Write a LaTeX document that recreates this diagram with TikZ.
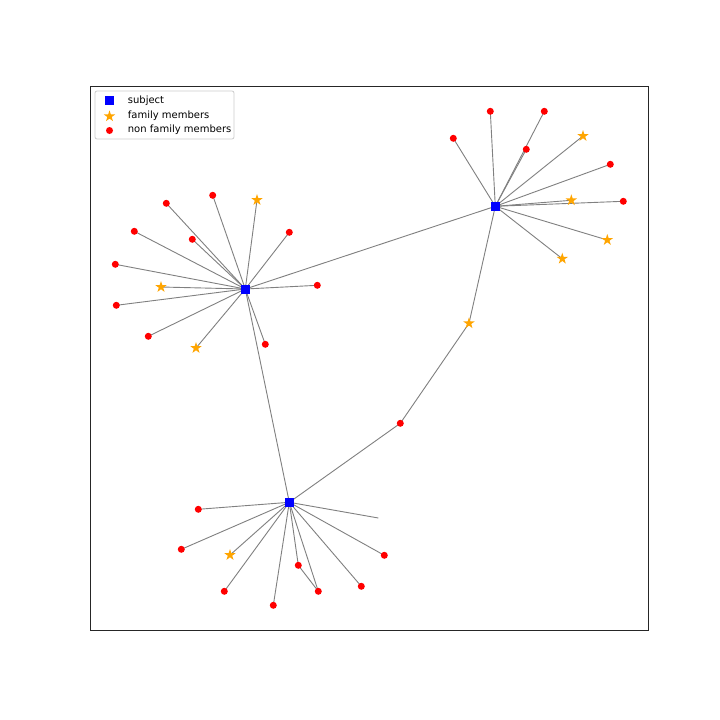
\documentclass[tikz,border=0pt]{standalone}
\usepackage{fontspec}
\setmainfont{DejaVu Sans}
\usetikzlibrary{shapes.geometric}
\definecolor{mplorange}{RGB}{255,165,0}
\definecolor{mplgray}{RGB}{128,128,128}
\pgfdeclarelayer{background}
\pgfsetlayers{background,main}
\tikzset{
  subj/.style={rectangle, fill=blue, inner sep=0pt, minimum size=9pt},
  fam/.style={star, star points=5, star point ratio=2.618, fill=mplorange, inner sep=0pt, minimum size=12pt},
  non/.style={circle, fill=red, inner sep=0pt, minimum size=7pt},
  edge/.style={draw=mplgray, line width=0.9pt},
  legtext/.style={anchor=west, inner sep=0pt, font=\fontsize{10}{12}\selectfont},
}
\begin{document}
\begin{tikzpicture}[x=1pt,y=-1pt]
\useasboundingbox (0,0) rectangle (720,720);
\begin{pgfonlayer}{background}
\fill[white] (0,0) rectangle (720,720);
\end{pgfonlayer}

% subjects
\node[subj] (A) at (245.3,289) {};
\node[subj] (B) at (495.3,206.3) {};
\node[subj] (C) at (289.3,502.3) {};

% middle chain
\node[fam] (m1) at (469,323.3) {};
\node[non] (m2) at (400.3,423.3) {};

% A cluster
\node[non] (a1) at (212.7,195.3) {};
\node[fam] (a2) at (257,200) {};
\node[non] (a3) at (166.3,203.3) {};
\node[non] (a4) at (134.3,231.3) {};
\node[non] (a5) at (192.3,239.3) {};
\node[non] (a6) at (289.3,232.3) {};
\node[non] (a7) at (115.3,264.3) {};
\node[fam] (a8) at (161,287) {};
\node[non] (a9) at (317.3,285.3) {};
\node[non] (a10) at (116.3,305.3) {};
\node[non] (a11) at (148.3,336.3) {};
\node[fam] (a12) at (196,348) {};
\node[non] (a13) at (265.3,344.3) {};

% B cluster
\node[non] (b1) at (490.3,111.3) {};
\node[non] (b2) at (544.3,111.3) {};
\node[non] (b3) at (453.3,138.3) {};
\node[fam] (b4) at (583,136) {};
\node[non] (b5) at (526.3,149.3) {};
\node[non] (b6) at (610.3,164.3) {};
\node[fam] (b7) at (571.3,200.3) {};
\node[non] (b8) at (623.3,201.3) {};
\node[fam] (b9) at (607.3,240) {};
\node[fam] (b10) at (562.3,258.7) {};

% C cluster
\node[non] (c1) at (198.3,509.3) {};
\coordinate (cx) at (378.3,518);
\node[non] (c2) at (181.3,549.3) {};
\node[fam] (c3) at (230,555) {};
\node[non] (c4) at (384.3,555.3) {};
\node[non] (c5) at (298.3,565.3) {};
\node[non] (c6) at (224.3,591.3) {};
\node[non] (c7) at (318.3,591.3) {};
\node[non] (c8) at (361.3,586.3) {};
\node[non] (c9) at (273.3,605.3) {};

% edges behind nodes
\begin{pgfonlayer}{background}
\draw[line width=0.8pt, black!85] (90.5,86.3) rectangle (648.5,630);
\path[edge] (A.center) -- (B.center) (A.center) -- (C.center)
  (B.center) -- (m1.center) -- (m2.center) -- (C.center);
\foreach \n in {a1,a2,a3,a4,a5,a6,a7,a8,a9,a10,a11,a12,a13}
  \path[edge] (A.center) -- (\n.center);
\foreach \n in {b1,b2,b3,b4,b5,b6,b7,b8,b9,b10}
  \path[edge] (B.center) -- (\n.center);
\foreach \n in {c1,c2,c3,c4,c5,c6,c7,c8,c9}
  \path[edge] (C.center) -- (\n.center);
\path[edge] (C.center) -- (cx);
\path[edge] (c5.center) -- (c7.center);
\end{pgfonlayer}

% legend
\draw[draw=black!20, fill=white, fill opacity=0.8, rounded corners=2pt, line width=0.8pt] (95,91) rectangle (234,139);
\node[subj] (ls) at (109.5,100.7) {};
\node[fam] (lf) at (109.5,116.3) {};
\node[non] (ln) at (109.5,130.5) {};
\node[legtext] (lts) at (127.7,100.3) {subject};
\node[legtext] (ltf) at (127.7,115.3) {family members};
\node[legtext] (ltn) at (127.7,129.7) {non family members};
\end{tikzpicture}
\end{document}
